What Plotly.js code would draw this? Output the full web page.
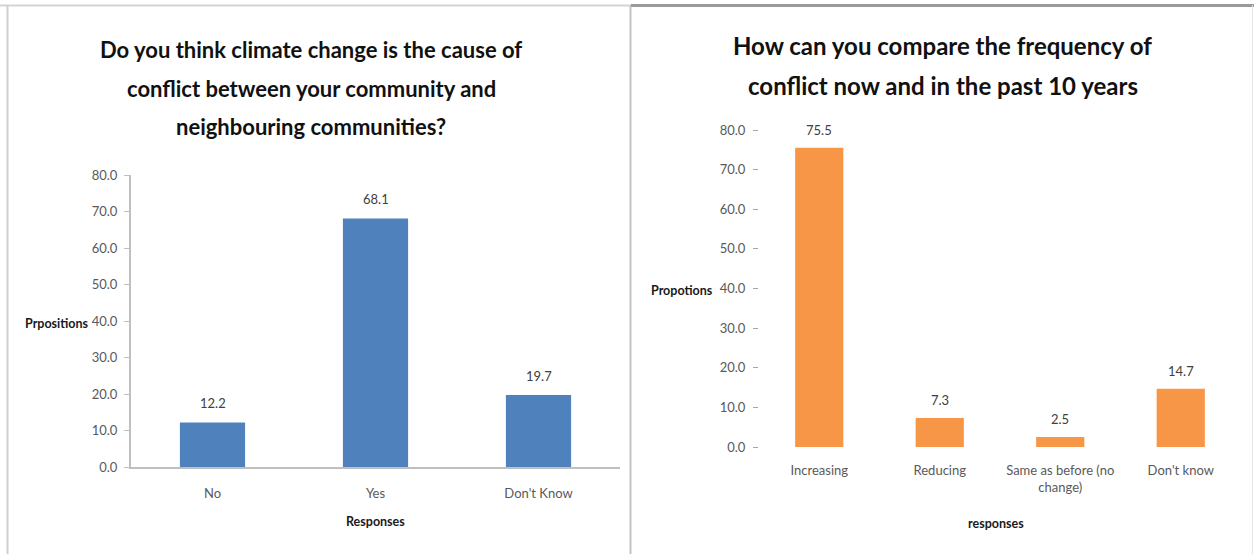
<!DOCTYPE html>
<html>
<head>
<meta charset="utf-8">
<script src="https://cdn.plot.ly/plotly-3.0.1.min.js"></script>
<style>
  html, body { margin: 0; padding: 0; background: #ffffff; }
  #chart { width: 1254px; height: 554px; }
</style>
</head>
<body>
<div id="chart"></div>
<script>
// Survey responses: climate change as cause of conflict
const causeCategories = ['No', 'Yes', "Don't Know"];
const causeValues = [12.2, 68.1, 19.7];
const causeTitleLines = [
  'Do you think climate change is the cause of',
  'conflict between your community and',
  'neighbouring communities?'
];

// Survey responses: conflict frequency now vs. 10 years ago
const freqCategories = ['Increasing', 'Reducing', 'Same as before (no<br>change)', "Don't know"];
const freqValues = [75.5, 7.3, 2.5, 14.7];
const freqTitleLines = [
  'How can you compare the frequency of',
  'conflict now and in the past 10 years'
];

const W = 1254, H = 554;
const px = v => v / W;            // pixel x -> paper x
const py = v => 1 - v / H;        // pixel y -> paper y

const tickFont = { family: 'Lato, Liberation Sans, sans-serif', size: 13, color: '#595959' };
const labelFont = { family: 'Lato, Liberation Sans, sans-serif', size: 13, color: '#404040' };
const axisTitleFont = { family: 'Lato, Liberation Sans, sans-serif', size: 12.5, color: '#1a1a1a', weight: 'bold' };
const causeTitleFont = { family: 'Lato, Liberation Sans, sans-serif', size: 22, color: '#111111', weight: 'bold' };
const freqTitleFont = { family: 'Lato, Liberation Sans, sans-serif', size: 24, color: '#111111', weight: 'bold' };

const traces = [
  {
    type: 'bar', x: causeCategories, y: causeValues,
    xaxis: 'x', yaxis: 'y',
    marker: { color: '#4F81BD' }, hoverinfo: 'x+y'
  },
  {
    type: 'bar', x: freqCategories, y: freqValues,
    xaxis: 'x2', yaxis: 'y2',
    marker: { color: '#F79646' }, hoverinfo: 'x+y'
  }
];

const annotations = [];

// value labels above each bar
causeCategories.forEach((c, i) => annotations.push({
  xref: 'x', yref: 'y', x: c, y: causeValues[i], text: causeValues[i].toFixed(1),
  showarrow: false, yanchor: 'middle', yshift: 19, font: labelFont
}));
freqCategories.forEach((c, i) => annotations.push({
  xref: 'x2', yref: 'y2', x: c, y: freqValues[i], text: freqValues[i].toFixed(1),
  showarrow: false, yanchor: 'middle', yshift: 18, font: labelFont
}));

// chart titles, one line per annotation
const causeTitleY = [50, 88, 126];
causeTitleLines.forEach((t, i) => annotations.push({
  xref: 'paper', yref: 'paper', x: px(311), y: py(causeTitleY[i]), text: t,
  showarrow: false, xanchor: 'center', yanchor: 'middle', font: causeTitleFont
}));
const freqTitleY = [45, 86];
freqTitleLines.forEach((t, i) => annotations.push({
  xref: 'paper', yref: 'paper', x: px(943), y: py(freqTitleY[i]), text: t,
  showarrow: false, xanchor: 'center', yanchor: 'middle', font: freqTitleFont
}));

// axis titles
annotations.push(
  { xref: 'paper', yref: 'paper', x: px(57), y: py(323), text: 'Prpositions',
    showarrow: false, xanchor: 'center', yanchor: 'middle', font: axisTitleFont },
  { xref: 'paper', yref: 'paper', x: px(375), y: py(521), text: 'Responses',
    showarrow: false, xanchor: 'center', yanchor: 'middle', font: axisTitleFont },
  { xref: 'paper', yref: 'paper', x: px(682), y: py(290), text: 'Propotions',
    showarrow: false, xanchor: 'center', yanchor: 'middle', font: axisTitleFont },
  { xref: 'paper', yref: 'paper', x: px(996), y: py(523), text: 'responses',
    showarrow: false, xanchor: 'center', yanchor: 'middle', font: axisTitleFont }
);

// panel frames
const shapes = [
  { type: 'line', xref: 'paper', yref: 'paper', x0: 0, x1: px(631), y0: py(5.5), y1: py(5.5),
    line: { color: '#D4D4D4', width: 2 } },
  { type: 'line', xref: 'paper', yref: 'paper', x0: px(7.5), x1: px(7.5), y0: py(5), y1: 0,
    line: { color: '#CFCFCF', width: 2 } },
  { type: 'line', xref: 'paper', yref: 'paper', x0: px(630.5), x1: px(630.5), y0: py(5), y1: 0,
    line: { color: '#C4C4C4', width: 2 } },
  { type: 'line', xref: 'paper', yref: 'paper', x0: px(631), x1: 1, y0: py(5.5), y1: py(5.5),
    line: { color: '#9A9A9A', width: 3 } },
  { type: 'line', xref: 'paper', yref: 'paper', x0: px(1252.5), x1: px(1252.5), y0: py(5), y1: 0,
    line: { color: '#E6E6E6', width: 1 } }
];

const layout = {
  width: W, height: H,
  margin: { l: 0, r: 0, t: 0, b: 0 },
  paper_bgcolor: '#ffffff', plot_bgcolor: '#ffffff',
  showlegend: false,
  bargap: 0.6,
  font: tickFont,
  xaxis: {
    domain: [px(131), px(620)], anchor: 'y', type: 'category',
    showline: true, linecolor: '#BFBFBF', linewidth: 2,
    ticks: 'outside', ticklen: 13, tickcolor: 'rgba(0,0,0,0)',
    showgrid: false, zeroline: false, tickfont: tickFont, fixedrange: true
  },
  yaxis: {
    domain: [1 - 467 / H, 1 - 175 / H], anchor: 'x', range: [0, 80],
    dtick: 10, tickformat: '.1f',
    showline: true, linecolor: '#BFBFBF', linewidth: 2,
    ticks: 'outside', ticklen: 5, tickcolor: '#BFBFBF', ticklabelstandoff: 4,
    showgrid: false, zeroline: false, tickfont: tickFont, fixedrange: true
  },
  xaxis2: {
    domain: [px(759), px(1241)], anchor: 'y2', type: 'category',
    showline: false, ticks: 'outside', ticklen: 11, tickcolor: 'rgba(0,0,0,0)',
    showgrid: false, zeroline: false, tickfont: tickFont, fixedrange: true
  },
  yaxis2: {
    domain: [1 - 447 / H, 1 - 130 / H], anchor: 'x2', range: [0, 80],
    dtick: 10, tickformat: '.1f',
    showline: false, ticks: 'outside', ticklen: 5, tickcolor: '#A6A6A6', ticklabelstandoff: 5,
    showgrid: false, zeroline: false, tickfont: tickFont, fixedrange: true
  },
  annotations: annotations,
  shapes: shapes
};

Plotly.newPlot('chart', traces, layout, { displayModeBar: false, staticPlot: true });
</script>
</body>
</html>
